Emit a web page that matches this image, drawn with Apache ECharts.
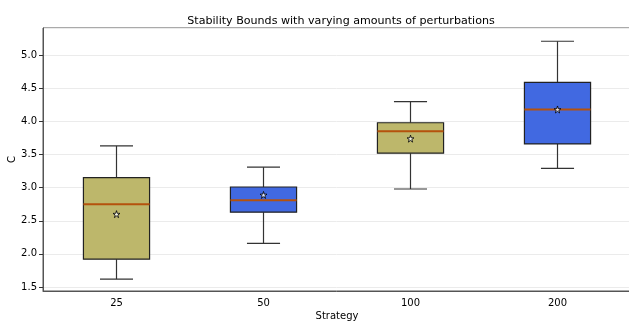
<!DOCTYPE html>
<html>
<head>
<meta charset="utf-8">
<script src="https://cdn.jsdelivr.net/npm/echarts@6/dist/echarts.min.js"></script>
<style>
    html, body { margin: 0; padding: 0; background: #fff; }
    #chart { width: 629px; height: 324px; }
</style>
</head>
<body>
<div id="chart"></div>
<script>
    // data
    var categories = ['25', '50', '100', '200'];
    var whiskerLow = [1.62, 2.16, 2.98, 3.29];
    var q1 = [1.92, 2.63, 3.52, 3.66];
    var median = [2.75, 2.81, 3.85, 4.18];
    var q3 = [3.15, 3.01, 3.98, 4.59];
    var whiskerHigh = [3.63, 3.31, 4.30, 5.21];
    var means = [2.60, 2.89, 3.74, 4.18];
    var boxColors = ['#bdb76b', '#4169e1', '#bdb76b', '#4169e1'];

    var boxData = categories.map(function (c, i) {
        return [i, whiskerLow[i], q1[i], median[i], q3[i], whiskerHigh[i]];
    });
    var meanData = categories.map(function (c, i) {
        return [i, means[i]];
    });

    var starPath = 'path://M50,0 L61,35 L98,35 L68,57 L79,91 L50,70 L21,91 L32,57 L2,35 L39,35 Z';

    function renderBox(params, api) {
        var idx = api.value(0);
        var size = api.size([1, 0]);
        var bw = size[0] * 0.45;
        var cw = bw * 0.5;
        var lo = api.coord([idx, api.value(1)]);
        var b1 = api.coord([idx, api.value(2)]);
        var md = api.coord([idx, api.value(3)]);
        var b3 = api.coord([idx, api.value(4)]);
        var hi = api.coord([idx, api.value(5)]);
        var x = lo[0];
        var lineStyle = { stroke: '#333', lineWidth: 1.2 };
        return {
            type: 'group',
            children: [
                { type: 'line', shape: { x1: x, y1: lo[1], x2: x, y2: b1[1] }, style: lineStyle },
                { type: 'line', shape: { x1: x, y1: b3[1], x2: x, y2: hi[1] }, style: lineStyle },
                { type: 'line', shape: { x1: x - cw / 2, y1: lo[1], x2: x + cw / 2, y2: lo[1] }, style: lineStyle },
                { type: 'line', shape: { x1: x - cw / 2, y1: hi[1], x2: x + cw / 2, y2: hi[1] }, style: lineStyle },
                {
                    type: 'rect',
                    shape: { x: x - bw / 2, y: b3[1], width: bw, height: b1[1] - b3[1] },
                    style: { fill: boxColors[params.dataIndex], stroke: '#222', lineWidth: 1.2 }
                },
                { type: 'line', shape: { x1: x - bw / 2, y1: md[1], x2: x + bw / 2, y2: md[1] },
                  style: { stroke: '#b5520c', lineWidth: 2 } }
            ]
        };
    }

    var chart = echarts.init(document.getElementById('chart'));
    var option = {
        animation: false,
        textStyle: { fontFamily: 'DejaVu Sans' },
        title: {
            text: 'Stability Bounds with varying amounts of perturbations',
            left: 336,
            textAlign: 'center',
            top: 11,
            textStyle: { fontSize: 11.1, fontWeight: 'normal', color: '#000', fontFamily: 'DejaVu Sans' }
        },
        grid: {
            left: 43, right: -2, top: 28, bottom: 33,
            outerBoundsMode: 'none',
            containLabel: false,
            show: true, borderColor: '#555', borderWidth: 1, backgroundColor: 'transparent'
        },
        xAxis: {
            type: 'category',
            data: categories,
            name: 'Strategy',
            nameLocation: 'middle',
            nameGap: 20,
            nameMoveOverlap: false,
            nameTextStyle: { fontSize: 10, color: '#000' },
            axisLine: { show: true, lineStyle: { color: '#555' } },
            axisTick: { alignWithLabel: true, length: 4, lineStyle: { color: '#333' } },
            axisLabel: { fontSize: 10, color: '#000', margin: 7 },
            splitLine: { show: false }
        },
        yAxis: {
            type: 'value',
            min: 1.44,
            max: 5.41,
            splitNumber: 8,
            name: 'C',
            nameLocation: 'middle',
            nameGap: 26,
            nameMoveOverlap: false,
            nameTextStyle: { fontSize: 10, color: '#000' },
            axisLine: { show: true, lineStyle: { color: '#555' } },
            axisTick: { show: true, length: 4, lineStyle: { color: '#333' } },
            axisLabel: {
                fontSize: 10, color: '#000', margin: 6,
                showMinLabel: false, showMaxLabel: false,
                formatter: function (v) { return v.toFixed(1); }
            },
            splitLine: { show: true, lineStyle: { color: '#ebebeb', width: 1 } }
        },
        series: [
            {
                type: 'custom',
                renderItem: renderBox,
                data: boxData,
                encode: { x: 0, y: [1, 2, 3, 4, 5] },
                z: 2
            },
            {
                type: 'scatter',
                data: meanData,
                symbol: starPath,
                symbolSize: 7,
                itemStyle: { color: '#fff', borderColor: '#000', borderWidth: 1 },
                z: 3
            }
        ]
    };
    chart.setOption(option);
</script>
</body>
</html>
